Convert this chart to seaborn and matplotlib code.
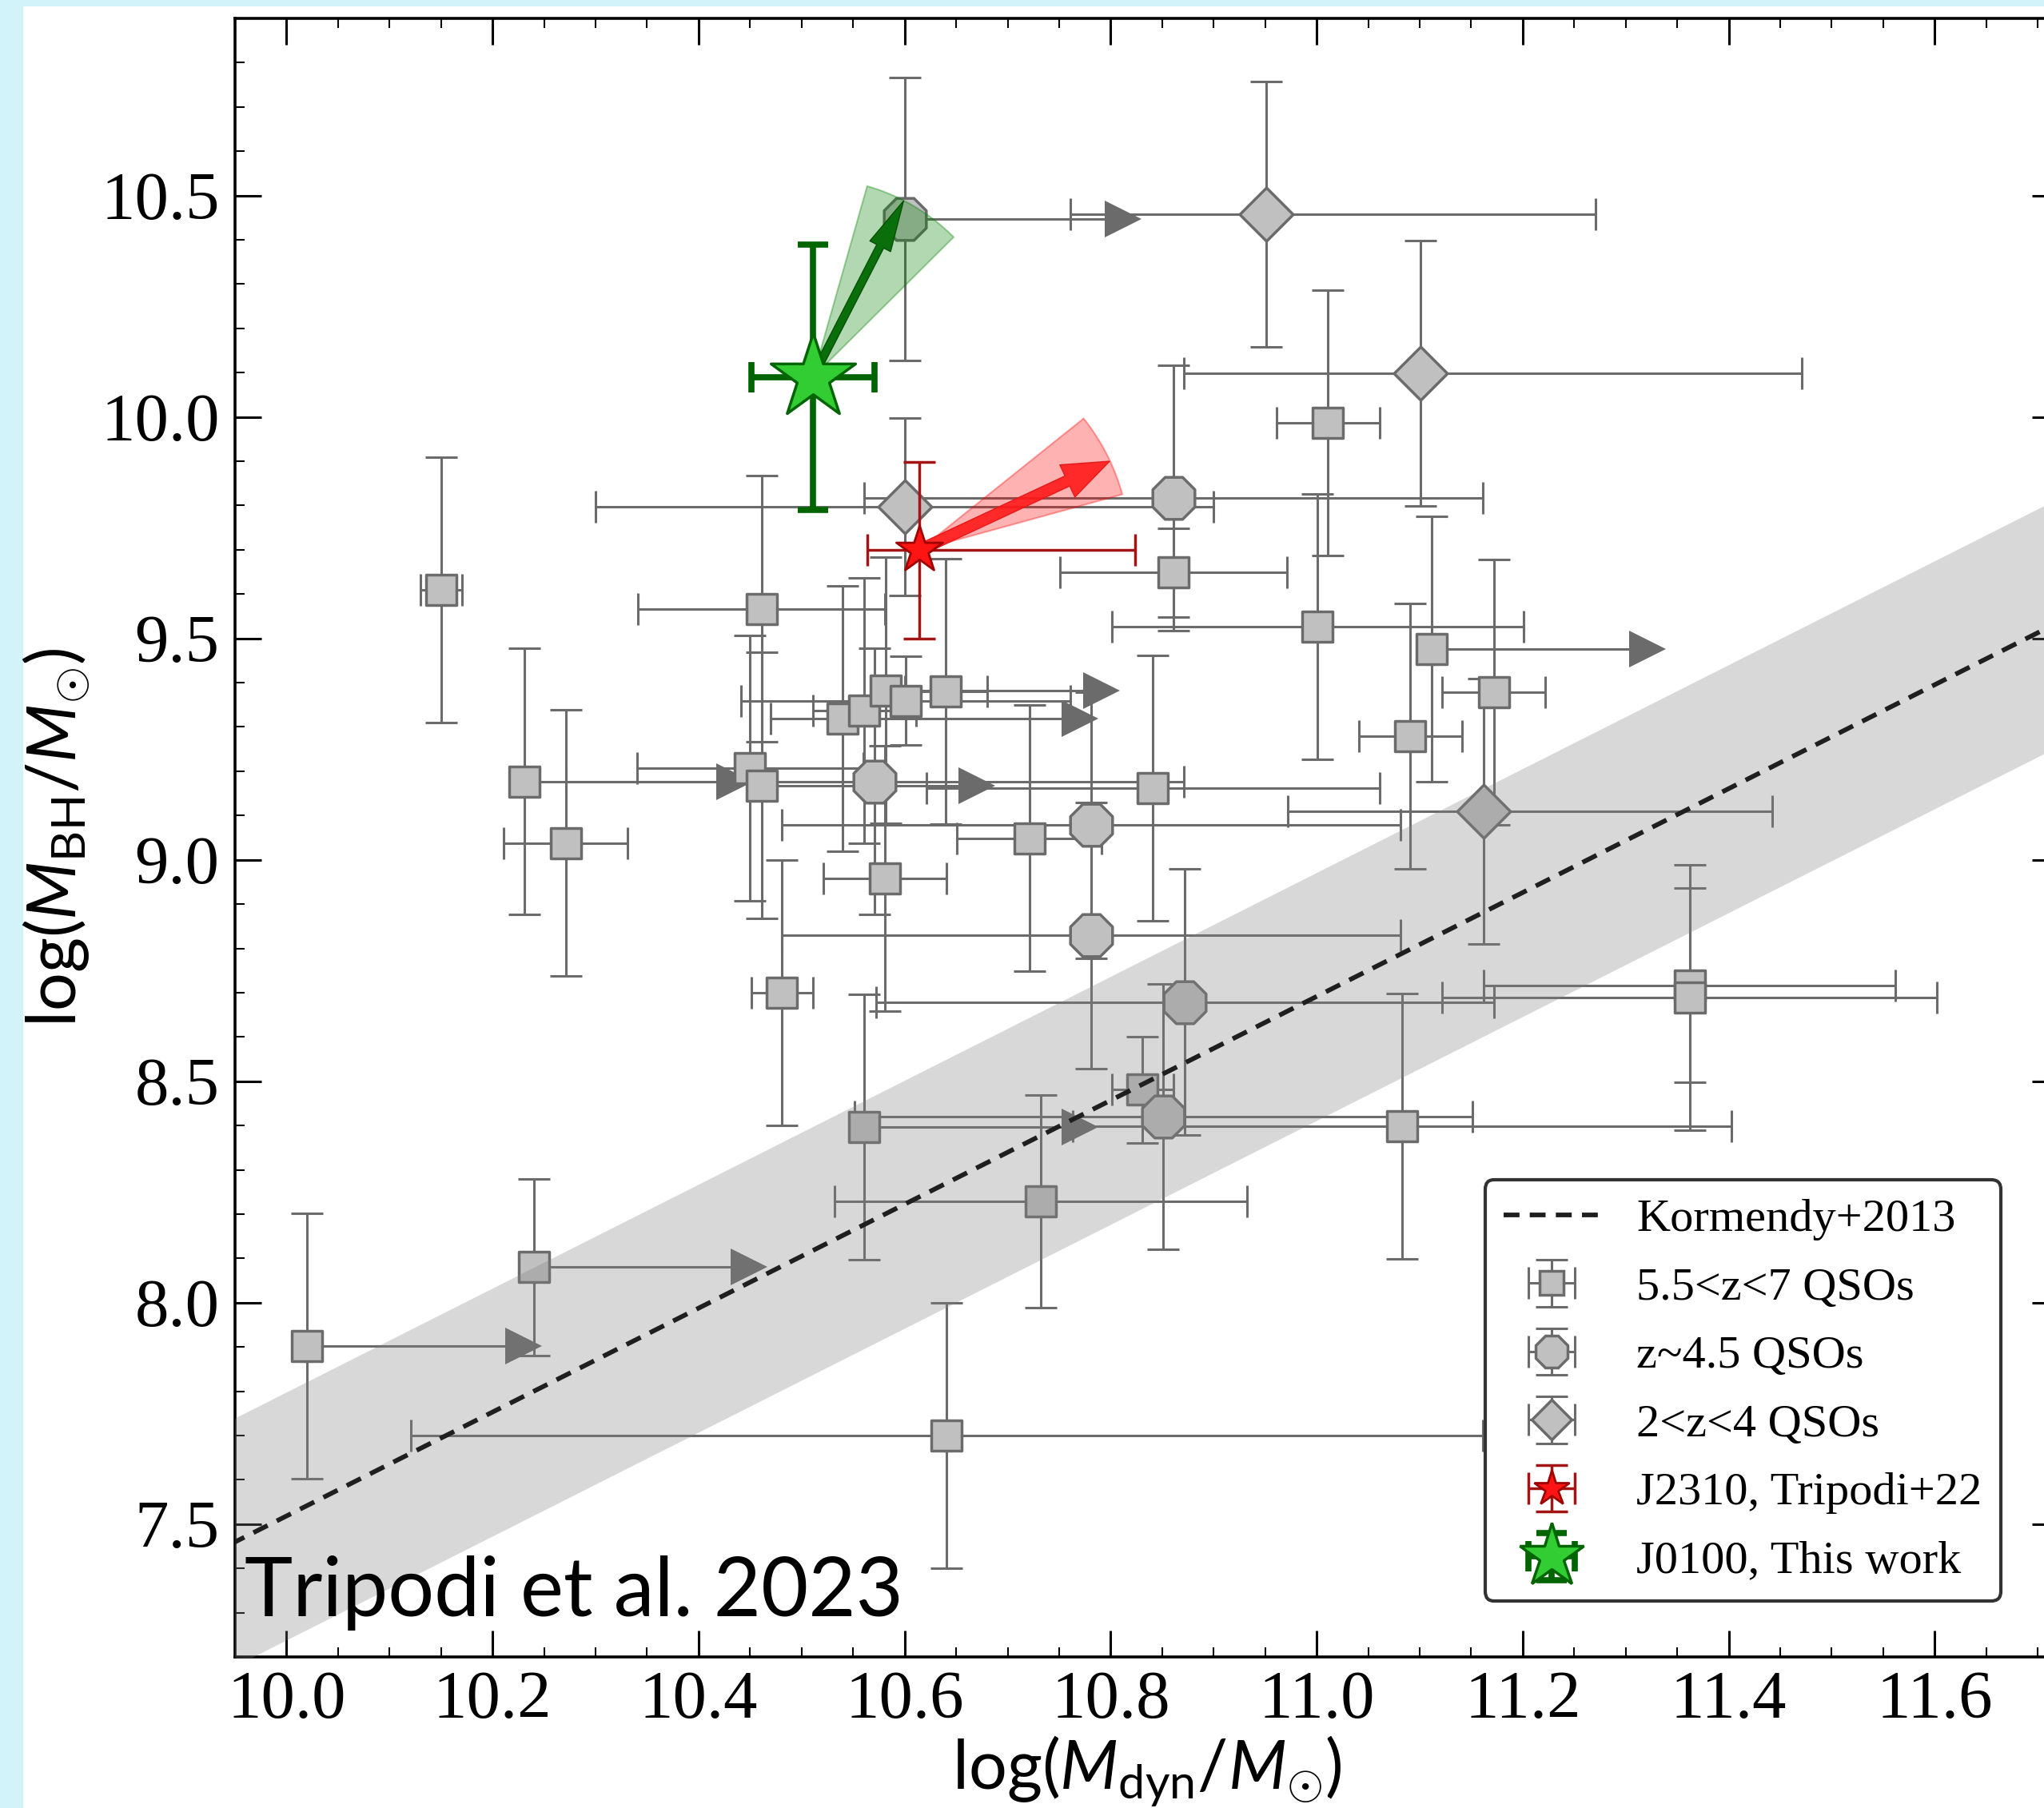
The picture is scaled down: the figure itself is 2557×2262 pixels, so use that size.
import numpy as np
import matplotlib
matplotlib.use("Agg")
import matplotlib.pyplot as plt
import seaborn as sns
from matplotlib.patches import Polygon, Rectangle, FancyArrowPatch, ArrowStyle
from matplotlib.lines import Line2D
from matplotlib.collections import LineCollection
from matplotlib.container import ErrorbarContainer
from matplotlib.ticker import MultipleLocator, FormatStrFormatter

nan = np.nan

# ---------------- data ----------------
# 5.5<z<7 QSOs (squares): position, x errors (minus/plus), y errors, lower-limit arrow end
sq_x = [10.150, 10.231, 10.271, 10.461, 10.450, 10.461, 10.540, 10.561, 10.582, 10.601,
        10.640, 10.581, 10.481, 10.721, 10.841, 10.861, 11.011, 11.001, 11.112, 11.091,
        11.172, 11.362, 11.362, 10.561, 10.831, 11.083, 10.732, 10.240, 10.020, 10.641]
sq_y = [9.610, 9.177, 9.038, 9.567, 9.207, 9.168, 9.319, 9.337, 9.383, 9.359,
        9.380, 8.958, 8.700, 9.049, 9.162, 9.649, 9.987, 9.527, 9.476, 9.279,
        9.379, 8.717, 8.689, 8.397, 8.481, 8.398, 8.229, 8.080, 7.902, 7.700]
sq_xm = [0.02, nan, 0.06, 0.12, 0.11, nan, 0.07, 0.05, nan, 0.16,
         0.04, 0.06, 0.03, 0.07, 0.22, 0.11, 0.05, 0.20, nan, 0.05,
         0.05, 0.20, 0.24, nan, 0.03, 0.32, 0.20, nan, nan, 0.52]
sq_xp = [0.02, nan, 0.06, 0.12, 0.11, nan, 0.0, 0.05, nan, 0.16,
         0.04, 0.06, 0.03, 0.07, 0.22, 0.11, 0.05, 0.20, nan, 0.05,
         0.05, 0.20, 0.24, nan, 0.03, 0.32, 0.20, nan, nan, 0.52]
sq_ye = [0.30, 0.30, 0.30, 0.30, 0.30, 0.30, 0.30, 0.30, 0.30, 0.10,
         0.30, 0.30, 0.30, 0.30, 0.30, 0.10, 0.30, 0.30, 0.30, 0.30,
         0.30, 0.22, 0.30, 0.30, 0.12, 0.30, 0.24, 0.20, 0.30, 0.30]
sq_arrow = [nan, 10.435, nan, nan, nan, 10.670, 10.770, nan, 10.791, nan,
            nan, nan, nan, nan, nan, nan, nan, nan, 11.321, nan,
            nan, nan, nan, 10.770, nan, nan, nan, 10.449, 10.230, nan]

# z~4.5 QSOs (octagons)
oc_x = [10.600, 10.861, 10.571, 10.781, 10.781, 10.872, 10.851]
oc_y = [10.447, 9.817, 9.177, 9.078, 8.829, 8.679, 8.420]
oc_xm = [nan, 0.30, 0.30, 0.30, 0.30, 0.30, 0.30]
oc_xp = [nan, 0.30, 0.30, 0.30, 0.30, 0.30, 0.30]
oc_ye = [0.32, 0.30, 0.30, 0.30, 0.30, 0.30, 0.30]
oc_arrow = [10.812, nan, nan, nan, nan, nan, nan]

# 2<z<4 QSOs (diamonds)
di_x = [10.951, 11.101, 10.600, 11.162]
di_y = [10.458, 10.099, 9.797, 9.110]
di_xm = [0.19, 0.23, 0.30, 0.19]
di_xp = [0.32, 0.37, 0.30, 0.28]
di_ye = [0.30, 0.30, 0.20, 0.30]
di_arrow = [nan, nan, nan, nan]

# J2310 (Tripodi+22)
red_x, red_y = 10.614, 9.699
red_xerr = [0.05, 0.21]
red_yerr = [0.20, 0.20]
red_tip = (10.799, 9.900)
red_cone = [(10.774, 9.997), (10.811, 9.825)]

# J0100 (this work)
grn_x, grn_y = 10.511, 10.090
grn_xerr = [0.06, 0.06]
grn_yerr = [0.30, 0.30]
grn_tip = (10.599, 10.488)
grn_cone = [(10.5635, 10.520), (10.648, 10.407)]

# Kormendy+2013 relation (end points) and its scatter band
kor_x = [9.90, 11.80]
kor_y = [7.401, 9.630]
kor_lo = [7.121, 9.350]
kor_hi = [7.681, 9.910]

labels = ["Kormendy+2013", "5.5<z<7 QSOs", "z~4.5 QSOs", "2<z<4 QSOs",
          "J2310, Tripodi+22", "J0100, This work"]

# ---------------- style ----------------
plt.rcParams['font.family'] = ['Liberation Serif', 'DejaVu Serif']
plt.rcParams['mathtext.fontset'] = 'custom'
plt.rcParams['mathtext.rm'] = 'Lato'
plt.rcParams['mathtext.it'] = 'Lato:italic'
plt.rcParams['mathtext.bf'] = 'Lato:bold'

GRAY_E = '#6b6b6b'
FILL = '#c0c0c0'
ELW = 2.2
CAP = 14.5
MEW = 2.5
SQ_MS, OC_MS, DI_MS = 27.5, 41.0, 34.0
TRI_MS = 33
KOR_LW = 4.2
KOR_LS = (0, (3.4, 2.2))
KOR_C = '#1f1f1f'

W, H, DPI = 2557, 2262, 100
fig = plt.figure(figsize=(W / DPI, H / DPI), dpi=DPI, facecolor='#d3f3fa')
fig.add_artist(Rectangle((29 / W, 0), 1, 1 - 8 / H, transform=fig.transFigure,
                         facecolor='white', edgecolor='none', zorder=-10))

L, R, T, B = 294, 2575, 23, 2073
ax = fig.add_axes([L / W, 1 - B / H, (R - L) / W, (B - T) / H])
ax.set_xlim(9.95, 11.72)
ax.set_ylim(7.2, 10.9)


def draw_group(x, y, xm, xp, ye, arrow, marker, ms):
    x = np.asarray(x, float); y = np.asarray(y, float)
    xm = np.asarray(xm, float); xp = np.asarray(xp, float)
    ye = np.asarray(ye, float); arrow = np.asarray(arrow, float)
    ax.errorbar(x, y, xerr=np.vstack([xm, xp]), yerr=ye, fmt='none', ecolor=GRAY_E,
                elinewidth=ELW, capsize=CAP, capthick=ELW, zorder=2)
    m = ~np.isnan(arrow)
    if m.any():
        ax.hlines(y[m], x[m], arrow[m], color=GRAY_E, lw=ELW, zorder=2)
        ax.plot(arrow[m], y[m], ls='none', marker='>', ms=TRI_MS, color=GRAY_E,
                mew=0, zorder=2.5)
    sns.scatterplot(x=x, y=y, marker=marker, s=ms ** 2, color=FILL, edgecolor=GRAY_E,
                    linewidth=MEW, zorder=3, ax=ax, legend=False)


draw_group(sq_x, sq_y, sq_xm, sq_xp, sq_ye, sq_arrow, 's', SQ_MS)
draw_group(oc_x, oc_y, oc_xm, oc_xp, oc_ye, oc_arrow, '8', OC_MS)
draw_group(di_x, di_y, di_xm, di_xp, di_ye, di_arrow, 'D', DI_MS)

# Kormendy relation + scatter band
ax.fill_between(kor_x, kor_lo, kor_hi, color='gray', alpha=0.3, lw=0, zorder=4)
ax.plot(kor_x, kor_y, color=KOR_C, lw=KOR_LW, ls=KOR_LS, zorder=4.5)


def cone(apex, v1, v2, color):
    Tr = ax.transData
    a = Tr.transform(apex)
    p1 = Tr.transform(v1); p2 = Tr.transform(v2)
    r = 0.5 * (np.hypot(*(p1 - a)) + np.hypot(*(p2 - a)))
    t1 = np.arctan2(p1[1] - a[1], p1[0] - a[0])
    t2 = np.arctan2(p2[1] - a[1], p2[0] - a[0])
    ts = np.linspace(t1, t2, 40)
    pts = np.vstack([a, a + r * np.c_[np.cos(ts), np.sin(ts)], a])
    ax.add_patch(Polygon(Tr.inverted().transform(pts), closed=True,
                         facecolor=(*matplotlib.colors.to_rgb(color), 0.3),
                         edgecolor=(*matplotlib.colors.to_rgb(color), 0.35),
                         lw=1.5, zorder=5))


cone((red_x, red_y), red_cone[0], red_cone[1], 'red')
cone((grn_x, grn_y), grn_cone[0], grn_cone[1], 'green')

ax.add_patch(FancyArrowPatch((red_x, red_y), red_tip,
                             arrowstyle=ArrowStyle('Simple', head_length=42, head_width=32,
                                                   tail_width=10),
                             mutation_scale=1, shrinkA=0, shrinkB=0,
                             fc=(1, 0.1, 0.1, 0.9), ec=(0.9, 0.1, 0.1), lw=1, zorder=6))
ax.add_patch(FancyArrowPatch((grn_x, grn_y), grn_tip,
                             arrowstyle=ArrowStyle('Simple', head_length=46, head_width=21,
                                                   tail_width=7),
                             mutation_scale=1, shrinkA=0, shrinkB=0,
                             fc='#0a6e0a', ec='#065006', lw=1, zorder=6))

RED_E, RED_F, RED_EDGE = '#a31515', '#ff1414', '#a00000'
GRN_E, GRN_F, GRN_EDGE = '#006400', '#32cd32', '#006400'
ax.errorbar([red_x], [red_y], xerr=[[red_xerr[0]], [red_xerr[1]]],
            yerr=[[red_yerr[0]], [red_yerr[1]]], fmt='none', ecolor=RED_E,
            elinewidth=2.5, capsize=14.5, capthick=2.5, zorder=7)
sns.scatterplot(x=[red_x], y=[red_y], marker='*', s=44 ** 2, color=RED_F,
                edgecolor=RED_EDGE, linewidth=2, zorder=8, ax=ax, legend=False)
ax.errorbar([grn_x], [grn_y], xerr=[[grn_xerr[0]], [grn_xerr[1]]],
            yerr=[[grn_yerr[0]], [grn_yerr[1]]], fmt='none', ecolor=GRN_E,
            elinewidth=5.5, capsize=14, capthick=5.5, zorder=7)
sns.scatterplot(x=[grn_x], y=[grn_y], marker='*', s=80 ** 2, color=GRN_F,
                edgecolor=GRN_EDGE, linewidth=2.5, zorder=8, ax=ax, legend=False)

# ---------------- axes ----------------
ax.set_xlim(9.95, 11.72)
ax.set_ylim(7.2, 10.9)
ax.xaxis.set_major_locator(MultipleLocator(0.2))
ax.xaxis.set_minor_locator(MultipleLocator(0.05))
ax.yaxis.set_major_locator(MultipleLocator(0.5))
ax.yaxis.set_minor_locator(MultipleLocator(0.1))
ax.xaxis.set_major_formatter(FormatStrFormatter('%.1f'))
ax.yaxis.set_major_formatter(FormatStrFormatter('%.1f'))
ax.tick_params(which='both', direction='in', top=True, right=True, colors='black')
ax.tick_params(which='major', length=23.5, width=2.2, labelsize=61)
ax.tick_params(which='minor', length=8.5, width=1.5)
ax.tick_params(axis='x', which='major', pad=12)
ax.tick_params(axis='y', which='major', pad=14)
for sp in ax.spines.values():
    sp.set_linewidth(2.6)

ax.set_xlabel(r'log($M_{\rm dyn}/M_{\odot}$)', fontsize=61, family='Lato')
ax.set_ylabel(r'log($M_{\rm BH}/M_{\odot}$)', fontsize=61, family='Lato')
ax.xaxis.set_label_coords(0.5, -0.047)
ax.yaxis.set_label_coords(-0.078, 0.5)

fig.text(306 / W, 1 - 2022 / H, 'Tripodi et al. 2023', family='Lato', fontsize=73.5,
         ha='left', va='baseline', zorder=30)


# ---------------- legend ----------------
def eb_handle(marker, ms, mfc, mec, mew, ecolor, elw, cap, label):
    line = Line2D([], [], marker=marker, ms=ms, mfc=mfc, mec=mec, mew=mew, ls='none')
    capl = Line2D([], [], marker='|', ms=2 * cap, mew=elw, color=ecolor, ls='none')
    bar = LineCollection([], colors=[ecolor], linewidths=[elw])
    return ErrorbarContainer((line, (capl,), (bar,)), has_xerr=True, has_yerr=True,
                             label=label)


handles = [
    Line2D([], [], color=KOR_C, lw=KOR_LW, ls=KOR_LS),
    eb_handle('s', SQ_MS, FILL, GRAY_E, MEW, GRAY_E, ELW, CAP, labels[1]),
    eb_handle('8', OC_MS, FILL, GRAY_E, MEW, GRAY_E, ELW, CAP, labels[2]),
    eb_handle('D', DI_MS, FILL, GRAY_E, MEW, GRAY_E, ELW, CAP, labels[3]),
    eb_handle('*', 44, RED_F, RED_EDGE, 2, RED_E, 2.5, 14.5, labels[4]),
    eb_handle('*', 80, GRN_F, GRN_EDGE, 2.5, GRN_E, 5.5, 14, labels[5]),
]
leg = ax.legend(handles, labels, loc='lower right', bbox_to_anchor=(0.9684, 0.0341),
                borderaxespad=0, prop={'family': 'Liberation Serif', 'size': 42},
                markerscale=0.76, handlelength=2.05, handletextpad=0.8, labelspacing=0.56,
                frameon=True, fancybox=True, framealpha=1, borderpad=0.4)
leg.get_frame().set_edgecolor('#333333')
leg.get_frame().set_linewidth(3)
leg.set_zorder(20)

fig.savefig('out.png', dpi=DPI, facecolor=fig.get_facecolor())
